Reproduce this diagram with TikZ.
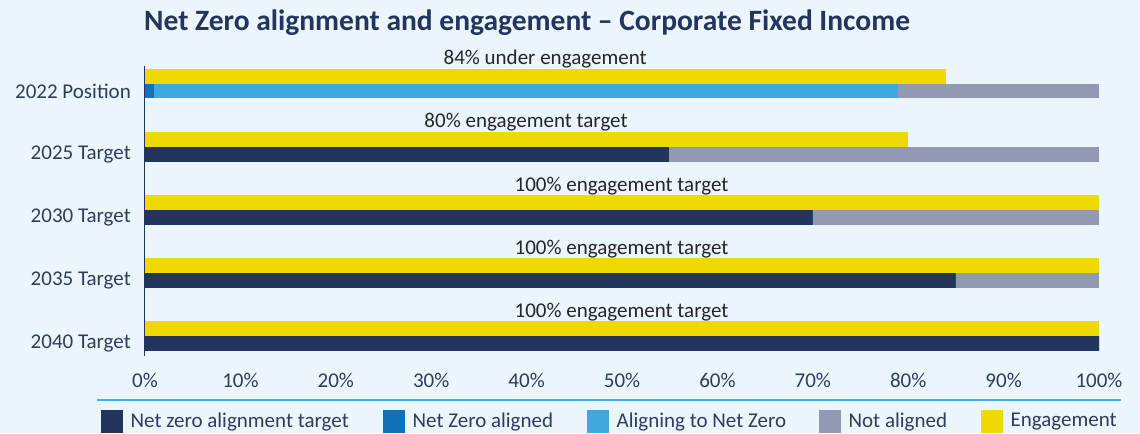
\documentclass[tikz,border=0pt]{standalone}
\usepackage{fontspec}
\setmainfont{Carlito}
\definecolor{bgblue}{HTML}{EAF5FC}
\definecolor{navy}{HTML}{23355F}
\definecolor{nzblue}{HTML}{1272B8}
\definecolor{lightblue}{HTML}{3DA9E0}
\definecolor{notgrey}{HTML}{9399B3}
\definecolor{engyellow}{HTML}{EEDA00}
\definecolor{rulecol}{HTML}{3DB0E8}
\definecolor{labcol}{HTML}{2E3D5E}
\begin{document}
\begin{tikzpicture}[x=1pt,y=-1pt]
\tikzstyle{every node}=[inner sep=0pt,text=labcol,font=\fontsize{21}{25}\selectfont]
\tikzstyle{barlabel}=[anchor=base,text=black!85]
\tikzstyle{legbox}=[minimum width=22pt,minimum height=23pt,anchor=north west]
\tikzstyle{legtext}=[anchor=west,xshift=7pt]
\fill [bgblue] (0,0) rectangle (1140,433);
\node [anchor=base west,text=navy,font=\fontsize{29.5}{33}\selectfont\bfseries] (title) at (144,31) {Net Zero alignment and engagement -- Corporate Fixed Income};
% bars: label / engagement / target / aligned / aligning / text
\foreach \lab/\eng/\tgt/\nza/\aln/\txt [count=\i from 0] in
  {2022 Position/84/0/1/79/84\% under engagement,
   2025 Target/80/55/0/55/80\% engagement target,
   2030 Target/100/70/0/70/100\% engagement target,
   2035 Target/100/85/0/85/100\% engagement target,
   2040 Target/100/100/0/100/100\% engagement target}
{
  \pgfmathsetmacro{\top}{69+63*\i}
  \pgfmathsetmacro{\mid}{\top+15}
  \pgfmathsetmacro{\bot}{\top+29.5}
  \pgfmathsetmacro{\xe}{144+9.55*\eng}
  \pgfmathsetmacro{\xt}{144+9.55*\tgt}
  \pgfmathsetmacro{\xa}{144+9.55*(\tgt+\nza)}
  \pgfmathsetmacro{\xl}{144+9.55*\aln}
  \fill [engyellow] (144,\top) rectangle (\xe,\mid);
  \fill [navy] (144,\mid) rectangle (\xt,\bot);
  \fill [nzblue] (\xt,\mid) rectangle (\xa,\bot);
  \fill [lightblue] (\xa,\mid) rectangle (\xl,\bot);
  \fill [notgrey] (\xl,\mid) rectangle (1099,\bot);
  \node [anchor=east] (row\i) at (131,\mid+7) {\lab};
  \node [barlabel] (txt\i) at ({(144+\xe)/2},\top-4) {\txt};
}
\draw [navy,line width=0.8pt] (144,66) -- (144,356);
% axis ticks
\foreach \k in {0,...,10}
  \node (tick\k) at (145+95.4*\k,380) {\pgfmathparse{int(10*\k)}\pgfmathresult\%};
\draw [rulecol,line width=1.2pt] (97,400) -- (1121,400);
% legend
\node [legbox,fill=navy] (lg1) at (101,410) {};
\node [legtext] at (lg1.east) {Net zero alignment target};
\node [legbox,fill=nzblue] (lg2) at (383,410) {};
\node [legtext] at (lg2.east) {Net Zero aligned};
\node [legbox,fill=lightblue] (lg3) at (587,410) {};
\node [legtext] at (lg3.east) {Aligning to Net Zero};
\node [legbox,fill=notgrey] (lg4) at (819,410) {};
\node [legtext] at (lg4.east) {Not aligned};
\node [legbox,fill=engyellow] (lg5) at (981,410) {};
\node [legtext] at (lg5.east) {Engagement};
\useasboundingbox (0,0) rectangle (1140,433);
\end{tikzpicture}
\end{document}
